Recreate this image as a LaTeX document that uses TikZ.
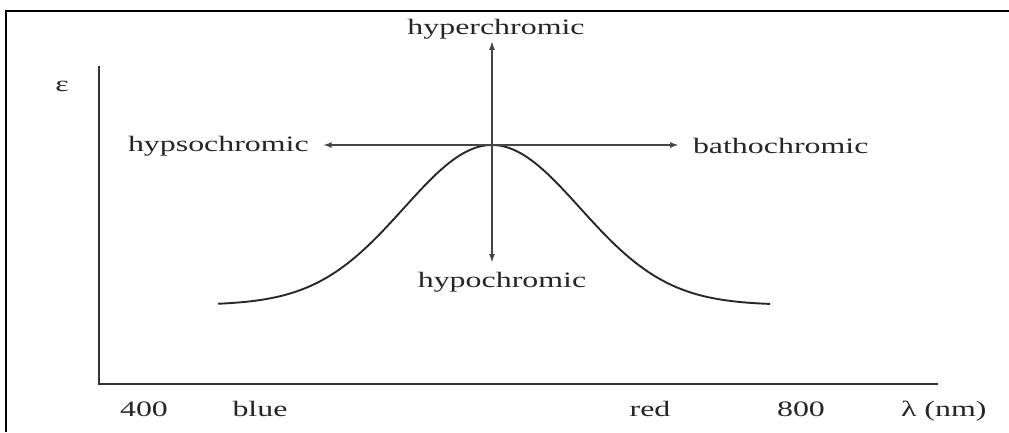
\documentclass[tikz,border=0pt]{standalone}
\usepackage{fontspec}
\setmainfont[FakeStretch=1.45]{Liberation Serif}
\usetikzlibrary{arrows.meta}
\definecolor{axiscolor}{RGB}{50,50,50}
\definecolor{arrowcolor}{RGB}{70,70,70}
\definecolor{curvecolor}{RGB}{40,40,40}
\tikzset{
  label text/.style={inner sep=0pt,outer sep=0pt,text=black!85,font=\fontsize{22bp}{26bp}\selectfont},
  shift arrow/.style={draw=arrowcolor,line width=1.9bp,-{Latex[length=9bp,width=6bp]}},
}

\begin{document}
\begin{tikzpicture}[x=1bp,y=-1bp,inner sep=0pt,outer sep=0pt]
  \useasboundingbox (0,0) rectangle (1009,432);
  % frame
  \draw[line width=2.6bp] (6,432) -- (6,11) -- (1009,11);
  % axes
  \coordinate (origin) at (99,384);
  \coordinate (ytop) at (99,66);
  \coordinate (xend) at (938,384);
  \draw[axiscolor,line width=2bp] (ytop) -- (origin) -- (xend);
  \node[label text] (eps) at (62,86) {ε};
  % absorption band
  \draw[curvecolor,line width=1.9bp,domain=218:770,samples=120]
    plot (\x,{305-160*exp(-0.5*((\x-492)/88)^2)});
  \coordinate (peak) at (492,145);
  % shift labels
  \node[label text,anchor=base] (hyper) at (496,34) {hyperchromic};
  \node[label text,anchor=north] (hypo) at (502,272) {hypochromic};
  \node[label text,anchor=west] (hypso) at (128,146) {hypsochromic};
  \node[label text,anchor=west] (batho) at (693,146) {bathochromic};
  \draw[shift arrow,shorten >=2bp] (peak) -- (peak |- hyper.south);
  \draw[shift arrow,shorten >=9bp] (peak) -- (peak |- hypo.north);
  \draw[shift arrow,shorten >=14bp] (peak) -- (peak -| hypso.east);
  \draw[shift arrow,shorten >=14bp] (peak) -- (peak -| batho.west);
  % wavelength labels
  \node[label text,anchor=base] (w400) at (144,416) {400};
  \node[label text,anchor=base] (blue) at (260,416) {blue};
  \node[label text,anchor=base] (red) at (650,416) {red};
  \node[label text,anchor=base] (w800) at (801,416) {800};
  \node[label text,anchor=base west] (lambda) at (901,416) {λ (nm)};
\end{tikzpicture}
\end{document}
